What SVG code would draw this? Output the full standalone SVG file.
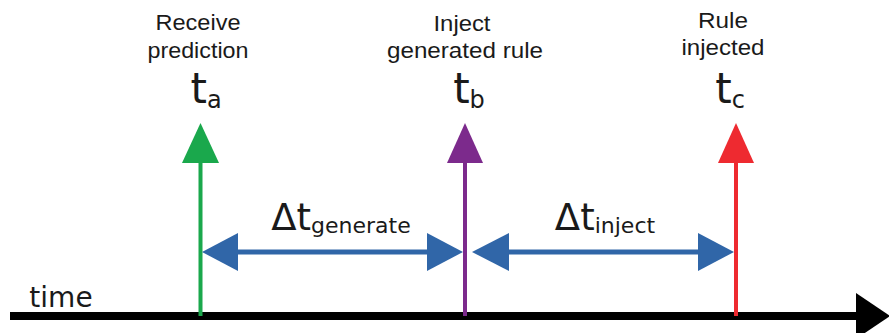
<svg xmlns="http://www.w3.org/2000/svg" width="889" height="333" viewBox="0 0 889 333">
  <style>
    .lbl { font-family: "DejaVu Sans", "Liberation Sans", sans-serif; fill: #1a1a1a; text-anchor: middle; }
    .cap { font-family: "Liberation Sans", Arial, sans-serif; font-size: 22px; }
    .big { font-size: 42px; }
    .sub { font-size: 24px; }
    .dlt { font-size: 37px; }
    .dsub { font-size: 22px; }
  </style>
  <rect width="889" height="333" fill="#ffffff"/>

  <!-- time axis -->
  <g id="axis">
    <rect x="10" y="312" width="848" height="8" fill="#000"/>
    <polygon points="856,293 890,316 856,339" fill="#000"/>
    <text class="lbl" x="61" y="307" style="font-size:28px">time</text>
  </g>

  <!-- t_a : receive prediction -->
  <g id="ta">
    <line x1="200.5" y1="160" x2="200.5" y2="316" stroke="#1aa84c" stroke-width="4"/>
    <polygon points="200.5,123 219,163 182,163" fill="#1aa84c"/>
    <text class="lbl cap" x="198" y="30" textLength="85" lengthAdjust="spacingAndGlyphs">Receive</text>
    <text class="lbl cap" x="198" y="58" textLength="101" lengthAdjust="spacingAndGlyphs">prediction</text>
    <text class="lbl" x="206" y="103"><tspan class="big">t</tspan><tspan class="sub" dy="5">a</tspan></text>
  </g>

  <!-- t_b : inject generated rule -->
  <g id="tb">
    <line x1="465" y1="160" x2="465" y2="316" stroke="#7c2a8c" stroke-width="4"/>
    <polygon points="465,123 483,163 447,163" fill="#7c2a8c"/>
    <text class="lbl cap" x="462" y="31" textLength="57" lengthAdjust="spacingAndGlyphs">Inject</text>
    <text class="lbl cap" x="465" y="58" textLength="156" lengthAdjust="spacingAndGlyphs">generated rule</text>
    <text class="lbl" x="469" y="103"><tspan class="big">t</tspan><tspan class="sub" dy="5">b</tspan></text>
  </g>

  <!-- t_c : rule injected -->
  <g id="tc">
    <line x1="736" y1="160" x2="736" y2="316" stroke="#ee2a30" stroke-width="4"/>
    <polygon points="736,123 754,163 718,163" fill="#ee2a30"/>
    <text class="lbl cap" x="723" y="28" textLength="50" lengthAdjust="spacingAndGlyphs">Rule</text>
    <text class="lbl cap" x="723" y="55" textLength="83" lengthAdjust="spacingAndGlyphs">injected</text>
    <text class="lbl" x="730" y="103"><tspan class="big">t</tspan><tspan class="sub" dy="5">c</tspan></text>
  </g>

  <!-- interval arrows -->
  <g id="connectors" fill="#3066a8">
    <rect x="236" y="249.5" width="193" height="5"/>
    <polygon points="202,252 238,233 238,271"/>
    <polygon points="463,252 427,233 427,271"/>
    <rect x="507" y="249.5" width="193" height="5"/>
    <polygon points="472,252 509,233 509,271"/>
    <polygon points="734,252 698,233 698,271"/>
  </g>

  <g id="dgen">
    <text class="lbl" x="341" y="230"><tspan class="dlt">Δt</tspan><tspan class="dsub" dy="3">generate</tspan></text>
  </g>
  <g id="dinj">
    <text class="lbl" x="605" y="230"><tspan class="dlt">Δt</tspan><tspan class="dsub" dy="3">inject</tspan></text>
  </g>
</svg>
